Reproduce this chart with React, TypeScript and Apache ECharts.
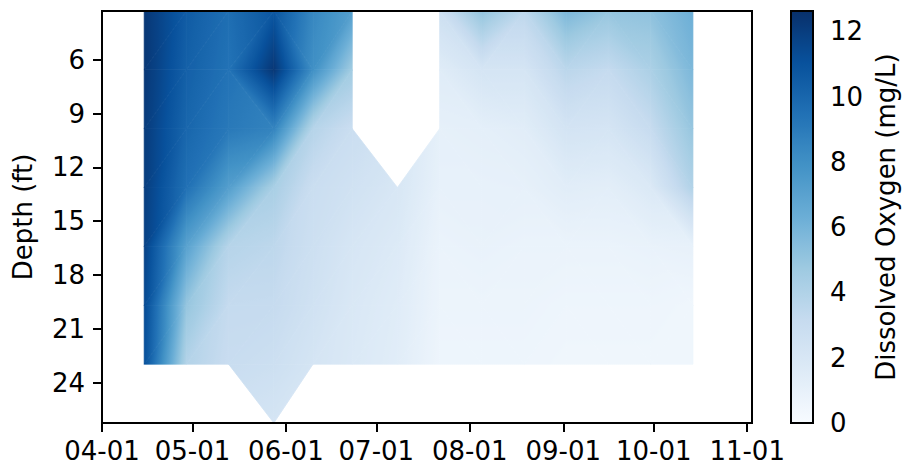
import React, { useEffect, useRef } from "react";
import * as echarts from "echarts";

// ---- data -------------------------------------------------------------
const sampleDates = [
  "2021-04-15", "2021-04-29", "2021-05-13", "2021-05-28", "2021-06-10", "2021-06-23", "2021-07-08",
  "2021-07-22", "2021-08-05", "2021-08-19", "2021-09-02", "2021-09-16", "2021-09-30", "2021-10-14",
];
const depthsFt = [3.28, 6.56, 9.84, 13.12, 16.4, 19.69, 22.97, 26.25];
// dissolved oxygen (mg/L) at each sampling date, one array per depth
const do3ft = [12.3, 10.5, 9.6, 10.8, 8.4, 7.2, null, 2.7, 5.1, 3.5, 5.8, 5.0, 5.2, 6.3];
const do7ft = [12.3, 10.3, 9.4, 12.3, 8.0, 4.6, null, 1.5, 2.2, 2.2, 3.6, 3.2, 4.2, 5.8];
const do10ft = [12.1, 10.0, 9.1, 8.6, 3.8, 2.9, null, 1.1, 1.2, 1.4, 2.3, 2.2, 3.1, 5.0];
const do13ft = [12.0, 9.5, 7.2, 4.3, 2.9, 2.5, 2.0, 1.0, 1.0, 1.05, 1.4, 1.3, 1.8, 4.0];
const do16ft = [11.8, 7.0, 3.8, 3.5, 2.7, 2.1, 1.7, 0.8, 0.9, 0.8, 0.8, 0.8, 0.9, 1.0];
const do20ft = [11.4, 5.0, 3.2, 3.15, 2.5, 1.9, 1.5, 0.7, 0.7, 0.7, 0.6, 0.6, 0.6, 0.5];
const do23ft = [11.1, 3.9, 3.0, 2.75, 2.2, 1.8, 1.4, 0.6, 0.6, 0.6, 0.5, 0.5, 0.5, 0.5];
const do26ft = [null, null, null, 2.2, null, null, null, null, null, null, null, null, null, null];

const monthTicks = ["2021-04-01", "2021-05-01", "2021-06-01", "2021-07-01", "2021-08-01", "2021-09-01", "2021-10-01", "2021-11-01"];
const monthLabels = ["04-01", "05-01", "06-01", "07-01", "08-01", "09-01", "10-01", "11-01"];
const depthTicks = [6, 9, 12, 15, 18, 21, 24];
const colorbarTicks = [0, 2, 4, 6, 8, 10, 12];
const xStart = "2021-04-01";
const xEndDays = 215.6;
const VMAX = 12.62;

const BLUES = ["#f7fbff", "#deebf7", "#c6dbef", "#9ecae1", "#6baed6", "#4292c6", "#2171b5", "#08519c", "#08306b"];

// ---- helpers ----------------------------------------------------------
const ts = (s: string) => new Date(s + "T00:00:00Z").getTime();
const DAY = 86400000;

const hexRgb = (h: string) => [parseInt(h.slice(1, 3), 16), parseInt(h.slice(3, 5), 16), parseInt(h.slice(5, 7), 16)];
const BLUES_RGB = BLUES.map(hexRgb);
function cmap(v: number): string {
  let t = v / VMAX;
  t = Math.max(0, Math.min(1, t));
  const s = t * (BLUES_RGB.length - 1);
  const i = Math.min(BLUES_RGB.length - 2, Math.floor(s));
  const f = s - i;
  const a = BLUES_RGB[i], b = BLUES_RGB[i + 1];
  const c = [0, 1, 2].map((k) => Math.round(a[k] + (b[k] - a[k]) * f));
  return `rgb(${c[0]},${c[1]},${c[2]})`;
}

const rows = [do3ft, do7ft, do10ft, do13ft, do16ft, do20ft, do23ft, do26ft];

function buildTriangles() {
  const out: number[][] = [];
  const pt = (i: number, j: number) => {
    const v = rows[j][i];
    return v == null ? null : [ts(sampleDates[i]), depthsFt[j], v as number];
  };
  for (let j = 0; j < rows.length - 1; j++) {
    for (let i = 0; i < sampleDates.length - 1; i++) {
      const A = pt(i, j), B = pt(i + 1, j), C = pt(i, j + 1), D = pt(i + 1, j + 1);
      const present = [A, B, C, D].filter(Boolean) as number[][];
      if (present.length === 4) {
        if (Math.abs(A![2] - D![2]) <= Math.abs(B![2] - C![2])) {
          out.push([...A!, ...C!, ...D!], [...A!, ...B!, ...D!]);
        } else {
          out.push([...A!, ...B!, ...C!], [...B!, ...C!, ...D!]);
        }
      } else if (present.length === 3) {
        out.push([...present[0], ...present[1], ...present[2]]);
      }
    }
  }
  return out;
}

const FONT = "DejaVu Sans";
const FS = 26;

export default function App() {
  const ref = useRef<HTMLDivElement>(null);
  useEffect(() => {
    const chart = echarts.init(ref.current!, null, { renderer: "svg" });
    const tickTs = monthTicks.map(ts);
    const labelFor = (v: number) => {
      const idx = tickTs.findIndex((t) => Math.abs(t - v) < DAY / 2);
      return idx >= 0 ? monthLabels[idx] : "";
    };
    const xMin = ts(xStart);
    const xMax = xMin + xEndDays * DAY;

    const triangleSeries = {
      type: "custom",
      xAxisIndex: 0,
      yAxisIndex: 0,
      z: 2,
      data: buildTriangles(),
      renderItem: (_params: any, api: any) => {
        const P = [0, 1, 2].map((k) => {
          const p = api.coord([api.value(3 * k), api.value(3 * k + 1)]);
          return [p[0], p[1], api.value(3 * k + 2)];
        });
        const [x0, y0, v0] = P[0], [x1, y1, v1] = P[1], [x2, y2, v2] = P[2];
        const det = (x1 - x0) * (y2 - y0) - (x2 - x0) * (y1 - y0);
        const a = ((v1 - v0) * (y2 - y0) - (v2 - v0) * (y1 - y0)) / det;
        const b = ((x1 - x0) * (v2 - v0) - (x2 - x0) * (v1 - v0)) / det;
        const g = Math.hypot(a, b);
        let fill: any;
        if (!isFinite(g) || g < 1e-9) {
          fill = cmap((v0 + v1 + v2) / 3);
        } else {
          const ux = a / g, uy = b / g;
          const proj = P.map((p) => p[0] * ux + p[1] * uy);
          let imin = 0, imax = 0;
          for (let k = 1; k < 3; k++) {
            if (proj[k] < proj[imin]) imin = k;
            if (proj[k] > proj[imax]) imax = k;
          }
          const L = proj[imax] - proj[imin];
          const vlo = P[imin][2], vhi = P[imax][2];
          const N = 16;
          const stops = [];
          for (let k = 0; k <= N; k++) stops.push({ offset: k / N, color: cmap(vlo + ((vhi - vlo) * k) / N) });
          const sx = P[imin][0], sy = P[imin][1];
          fill = new echarts.graphic.LinearGradient(sx, sy, sx + ux * L, sy + uy * L, stops, true);
        }
        return {
          type: "polygon",
          shape: { points: P.map((p) => [p[0], p[1]]) },
          style: { fill, stroke: fill, lineWidth: 0.8 },
        };
      },
    };

    const cbStops = [];
    for (let k = 0; k <= 32; k++) cbStops.push({ offset: k / 32, color: cmap((VMAX * (32 - k)) / 32) });

    const colorbarSeries = {
      type: "custom",
      xAxisIndex: 1,
      yAxisIndex: 1,
      z: 2,
      data: [[0, 0, 1, VMAX]],
      renderItem: (_params: any, api: any) => {
        const p0 = api.coord([api.value(0), api.value(3)]);
        const p1 = api.coord([api.value(2), api.value(1)]);
        return {
          type: "rect",
          shape: { x: p0[0], y: p0[1], width: p1[0] - p0[0], height: p1[1] - p0[1] },
          style: { fill: new echarts.graphic.LinearGradient(0, 0, 0, 1, cbStops) },
        };
      },
    };

    const labelStyle = { fontFamily: FONT, fontSize: FS, color: "#000" };

    chart.setOption({
      animation: false,
      backgroundColor: "#fff",
      textStyle: { fontFamily: FONT },
      grid: [
        { left: 102, top: 11, width: 650, height: 412, show: true, borderColor: "#000", borderWidth: 2, backgroundColor: "transparent", z: 10 },
        { left: 791, top: 11, width: 22, height: 412, show: true, borderColor: "#000", borderWidth: 2, backgroundColor: "transparent", z: 10 },
      ],
      xAxis: [
        {
          type: "value",
          gridIndex: 0,
          min: xMin,
          max: xMax,
          axisLine: { show: false },
          splitLine: { show: false },
          axisTick: { show: true, inside: false, length: 9, lineStyle: { color: "#000", width: 2 }, customValues: tickTs },
          axisLabel: { ...labelStyle, margin: 15, customValues: tickTs, formatter: (v: number) => labelFor(v), hideOverlap: false },
        },
        { type: "value", gridIndex: 1, min: 0, max: 1, show: false },
      ],
      yAxis: [
        {
          type: "value",
          gridIndex: 0,
          inverse: true,
          min: depthsFt[0],
          max: depthsFt[depthsFt.length - 1],
          axisLine: { show: false },
          splitLine: { show: false },
          axisTick: { show: true, inside: false, length: 9, lineStyle: { color: "#000", width: 2 }, customValues: depthTicks },
          axisLabel: { ...labelStyle, margin: 17, customValues: depthTicks },
          name: "Depth (ft)",
          nameLocation: "middle",
          nameRotate: 90,
          nameGap: 66,
          nameTextStyle: { ...labelStyle },
        },
        {
          type: "value",
          gridIndex: 1,
          position: "right",
          min: 0,
          max: VMAX,
          axisLine: { show: false },
          splitLine: { show: false },
          axisTick: { show: true, inside: false, length: 9, lineStyle: { color: "#000", width: 2 }, customValues: colorbarTicks },
          axisLabel: { ...labelStyle, margin: 17, customValues: colorbarTicks },
          name: "Dissolved Oxygen (mg/L)",
          nameLocation: "middle",
          nameRotate: 90,
          nameGap: 60,
          nameTextStyle: { ...labelStyle },
        },
      ],
      series: [triangleSeries, colorbarSeries],
    });
    return () => chart.dispose();
  }, []);
  return <div ref={ref} style={{ position: "fixed", left: 0, top: 0, width: 903, height: 467 }} />;
}
